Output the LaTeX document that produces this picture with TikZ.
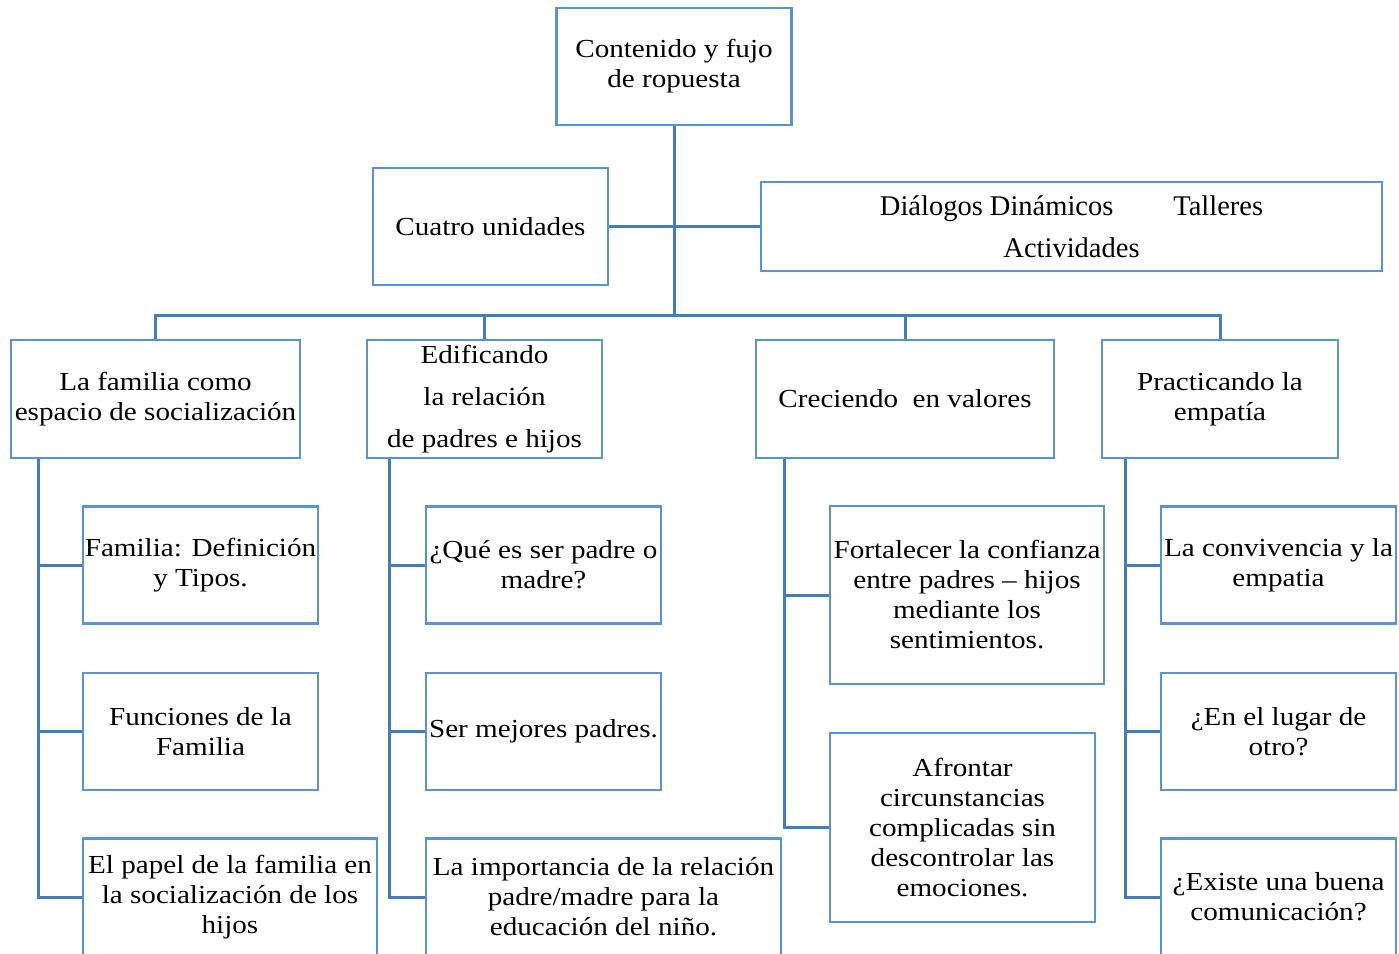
\documentclass[tikz,border=0pt]{standalone}
\usepackage{fontspec}
\setmainfont{Liberation Serif}[FakeStretch=1.12]
\newfontfamily\plainserif{Liberation Serif}
\usepackage{tikz}
\definecolor{boxblue}{RGB}{94,146,204}
\definecolor{linkblue}{RGB}{72,124,182}
\tikzset{
  box/.style={draw=boxblue,line width=2.8pt,align=center,inner sep=0pt,
    minimum width=235pt,minimum height=117pt,font=\fontsize{26pt}{30pt}\selectfont},
  link/.style={draw=linkblue,line width=3pt}
}
\begin{document}
\begin{tikzpicture}[x=1pt,y=-1pt]
\clip (0,0) rectangle (1399,953);
\node[box] (top) at (674,66.5) {Contenido y fujo\\de ropuesta};
\node[box] (cuatro) at (490.5,226.5) {Cuatro unidades};
\node[box,minimum width=621pt,minimum height=89pt,font=\plainserif\fontsize{28.5pt}{42pt}\selectfont] (dial) at (1071.5,226.5) {Diálogos Dinámicos\hspace{2.1em}Talleres\\Actividades};
\coordinate (hub) at (674,315);
\node[box,minimum width=289pt,minimum height=118pt] (fam) at (155.5,399) {La familia como\\espacio de socialización};
\node[box,minimum height=118pt] (edif) at (484.5,399) {Edificando\\[12pt] la relación\\[12pt] de padres e hijos};
\node[box,minimum width=298pt,minimum height=118pt] (crec) at (905,399) {Creciendo~~en valores};
\node[box,minimum width=236pt,minimum height=118pt] (pract) at (1220,399) {Practicando la\\empatía};
\node[box] (a1) at (200.5,565) {Familia: Definición\\y Tipos.};
\node[box] (a2) at (200.5,731.5) {Funciones de la\\Familia};
\node[box,minimum width=294pt] (a3) at (230,897) {El papel de la familia en\\la socialización de los\\hijos};
\node[box] (b1) at (543.5,565) {¿Qué es ser padre o\\madre?};
\node[box] (b2) at (543.5,731.5) {Ser mejores padres.};
\node[box,minimum width=355pt] (b3) at (603.5,897) {La importancia de la relación\\padre/madre para la\\educación del niño.};
\node[box,minimum width=274pt,minimum height=178pt] (c1) at (967,595) {Fortalecer la confianza\\entre padres – hijos\\mediante los\\sentimientos.};
\node[box,minimum width=265pt,minimum height=189pt] (c2) at (962.5,827.5) {Afrontar\\circunstancias\\complicadas sin\\descontrolar las\\emociones.};
\node[box] (d1) at (1278.5,565) {La convivencia y la\\empatia};
\node[box] (d2) at (1278.5,731.5) {¿En el lugar de\\otro?};
\node[box] (d3) at (1278.5,897) {¿Existe una buena\\comunicación?};
\draw[link] (top.south) -- (hub);
\draw[link] (cuatro.east) -- (dial.west);
\foreach \u in {fam,edif,crec,pract}
  \draw[link] (\u.north) |- (hub);
\foreach \c in {a1,a2,a3}
  \draw[link] ([xshift=29pt]fam.south west) |- (\c.west);
\foreach \c in {b1,b2,b3}
  \draw[link] ([xshift=24pt]edif.south west) |- (\c.west);
\foreach \c in {c1,c2}
  \draw[link] ([xshift=30pt]crec.south west) |- (\c.west);
\foreach \c in {d1,d2,d3}
  \draw[link] ([xshift=25pt]pract.south west) |- (\c.west);
\end{tikzpicture}
\end{document}
